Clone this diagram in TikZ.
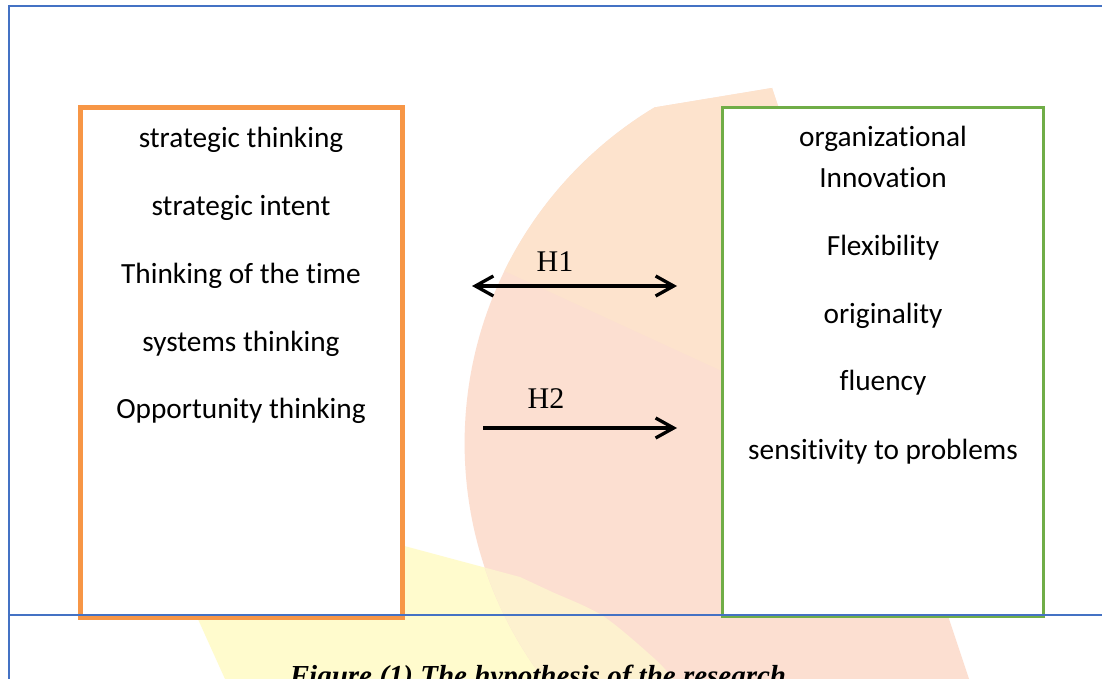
\documentclass[tikz,border=0pt]{standalone}
\usepackage{fontspec}
\setmainfont{Liberation Serif}
% body font for the box items, with ligature features switched off
\font\itemfont="Carlito:-liga;-clig;-calt;-dlig" at 29.3pt
\newcommand\nolig{\kern0pt}
\usetikzlibrary{arrows.meta}

\definecolor{ruleblue}{RGB}{68,114,196}
\definecolor{boxorange}{RGB}{247,150,70}
\definecolor{boxgreen}{RGB}{112,173,71}
\definecolor{peachA}{RGB}{253,227,205}
\definecolor{peachB}{RGB}{252,223,209}
\definecolor{paleyellow}{RGB}{255,251,205}
\definecolor{paleblend}{RGB}{253,241,207}

% background emblem shapes (pixel-like coordinates, y grows downwards)
\def\peachdisc{(856.4,443.3) circle[radius=391.8]}
\def\peachwedge{(400,149.5) -- (772,88) -- (987,733) -- (400,733) -- cycle}
\def\yellowshape{(132,473) -- (520,577) -- plot[smooth] coordinates {(520,577) (550,591) (603,616) (656,660) (673,679)} -- (225,679) -- cycle}

\tikzset{
  itemtext/.style={font=\itemfont, anchor=base, inner sep=0pt},
  hlabel/.style={font=\fontsize{30}{36}\selectfont, anchor=base, inner sep=0pt},
  varbox/.style={line width=#1, fill=white},
  barb/.style={arrows={-Straight Barb[length=18pt,width=20pt]}},
  twobarb/.style={arrows={Straight Barb[length=18pt,width=20pt]-Straight Barb[length=18pt,width=20pt]}},
  relarrow/.style={line width=3.3pt},
  pagerule/.style={draw=ruleblue, line width=#1},
}

\begin{document}
\begin{tikzpicture}[x=1pt,y=-1pt]
\useasboundingbox (0,0) rectangle (1102,679);
\clip (0,0) rectangle (1102,679);
\fill[white] (0,0) rectangle (1102,679);

% emblem in the background
\fill[paleyellow] \yellowshape;
\begin{scope}
  \clip \peachwedge;
  \clip \peachdisc;
  \fill[peachB] (0,0) rectangle (1102,679);
  \fill[peachA] (400,0) -- (400,223) -- (1000,499) -- (1000,0) -- cycle;
  \clip \yellowshape;
  \fill[paleblend] (0,0) rectangle (1102,679);
\end{scope}

% the two variable boxes
\draw[varbox=5pt, draw=boxorange] (80.5,107.5) rectangle (402,617);
\draw[varbox=3pt, draw=boxgreen] (722.5,108) rectangle (1043,616);

% independent variable dimensions
\node[itemtext] (l1) at (241,148) {strategic thinking};
\node[itemtext] (l2) at (241,215) {strategic intent};
\node[itemtext] (l3) at (241,283) {Thinking of the t\nolig ime};
\node[itemtext] (l4) at (241,351) {systems thinking};
\node[itemtext] (l5) at (241,418) {Opportunity thinking};

% dependent variable dimensions
\node[itemtext] (r1) at (883,147) {organizat\nolig ional};
\node[itemtext] (r2) at (883,188) {Innovat\nolig ion};
\node[itemtext] (r3) at (883,255) {Flexibility};
\node[itemtext] (r4) at (883,323) {originality};
\node[itemtext] (r5) at (883,390) {f\nolig luency};
\node[itemtext] (r6) at (883,459) {sensit\nolig ivity to problems};

% hypotheses
\coordinate (h1a) at (472,286);
\coordinate (h1b) at (677,286);
\coordinate (h2a) at (483,428);
\coordinate (h2b) at (677,428);
\draw[relarrow, twobarb] (h1a) -- (h1b);
\draw[relarrow, barb] (h2a) -- (h2b);
\node[hlabel] (H1) at (555,271) {H1};
\node[hlabel] (H2) at (546,408) {H2};

% page rules
\draw[pagerule=1.7pt] (8,5.8) -- (1102,5.8);
\draw[pagerule=1.7pt] (9.2,5) -- (9.2,679);
\draw[pagerule=1.1pt] (9.2,615) -- (1102,615);

% caption
\node[font=\bfseries\itshape\fontsize{29}{35}\selectfont, anchor=base, inner sep=0pt] (cap) at (538,685) {Figure (1) The hypothesis of the research};
\end{tikzpicture}
\end{document}
